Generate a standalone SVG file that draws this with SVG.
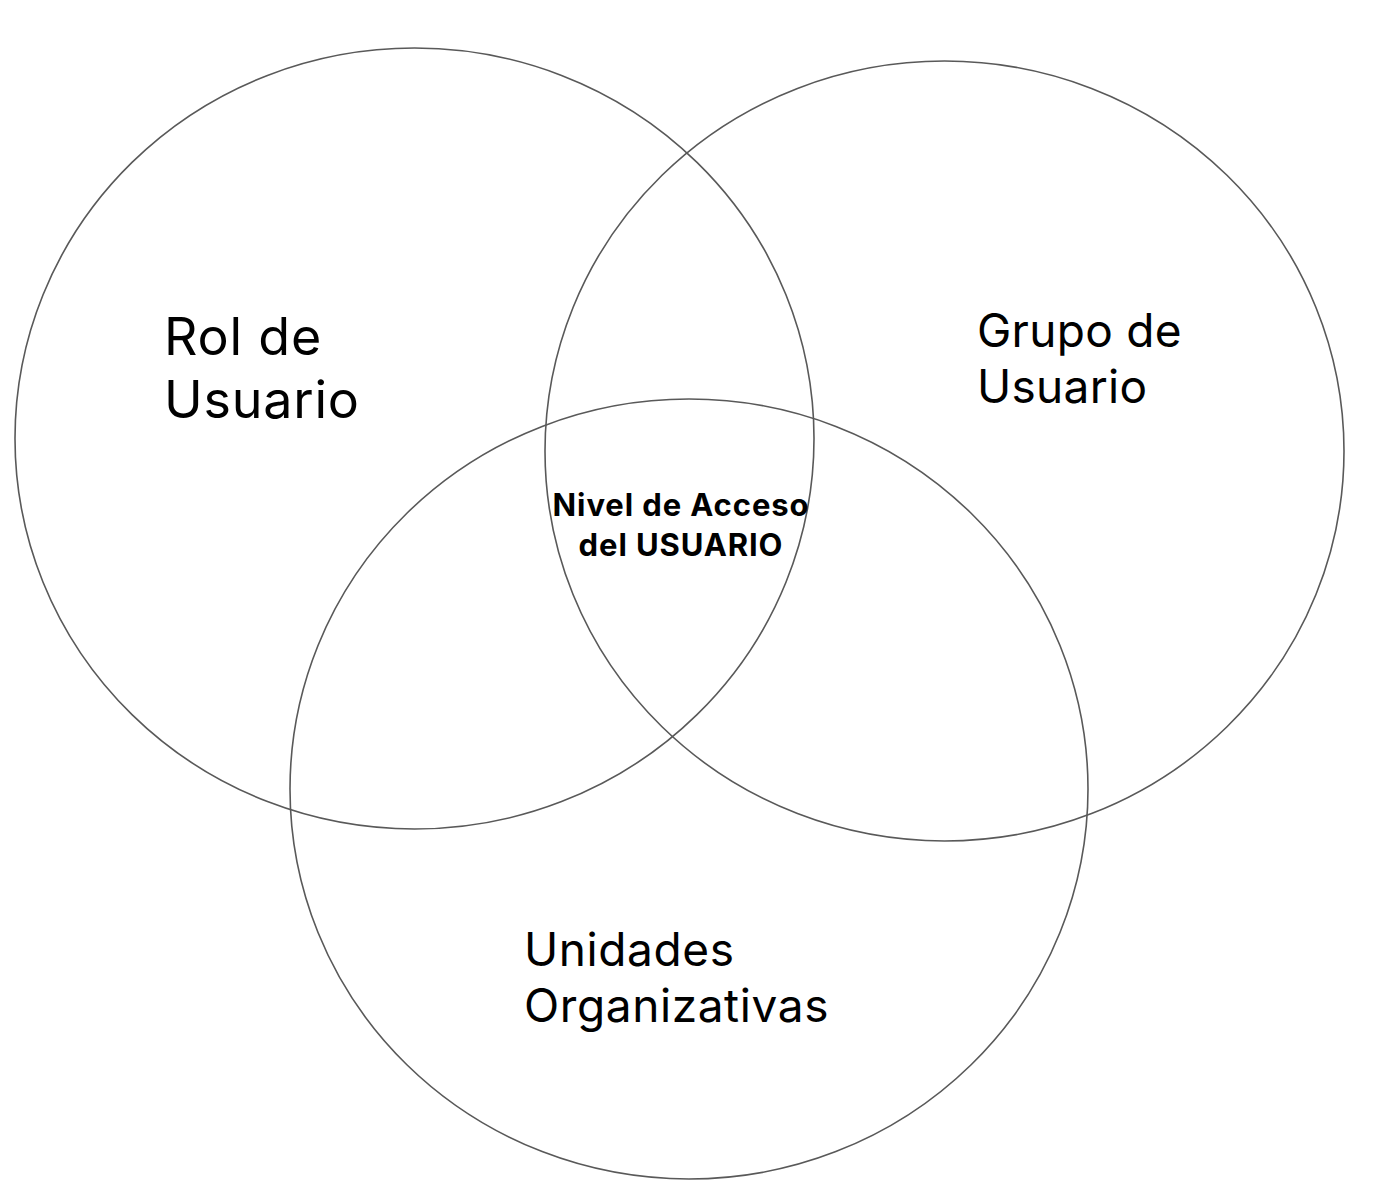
<svg xmlns="http://www.w3.org/2000/svg" width="1398" height="1202" viewBox="0 0 1398 1202">
<style>
.c{fill:none;stroke:#595959;stroke-width:1.6}
.t{font-family:Inter,"Noto Sans",sans-serif;fill:#000}
.b{font-family:Inter,"Noto Sans",sans-serif;font-weight:bold;fill:#000;font-size:31px;letter-spacing:0.9px}
</style>
<rect width="1398" height="1202" fill="#fff"/>
<g id="rol"><ellipse class="c" cx="414.5" cy="438.5" rx="399.5" ry="390.5"/>
<text class="t" font-size="52" letter-spacing="0.8" x="164" y="355">Rol de</text><text class="t" font-size="52" letter-spacing="0.8" x="164" y="418">Usuario</text></g>
<g id="grupo"><ellipse class="c" cx="944.5" cy="451" rx="399.5" ry="390"/>
<text class="t" font-size="46" letter-spacing="0.3" x="977" y="347">Grupo de</text><text class="t" font-size="46" letter-spacing="0.3" x="977" y="403">Usuario</text></g>
<g id="unidades"><ellipse class="c" cx="689" cy="789" rx="399" ry="390"/>
<text class="t" font-size="46" letter-spacing="0.6" x="524" y="966">Unidades</text><text class="t" font-size="46" letter-spacing="0.6" x="524" y="1022">Organizativas</text></g>
<g id="nivel"><text class="b" x="681" y="516" text-anchor="middle">Nivel de Acceso</text><text class="b" x="681" y="556" text-anchor="middle">del USUARIO</text></g>
<g id="connectors"/>
</svg>
